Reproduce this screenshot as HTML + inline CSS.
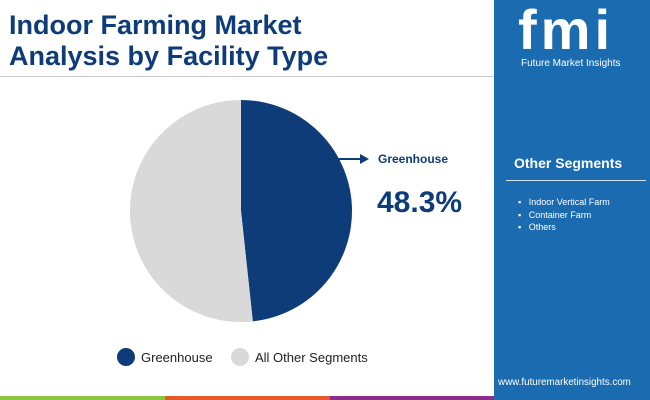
<!DOCTYPE html>
<html><head><meta charset="utf-8"><style>
body{margin:0;width:650px;height:400px;position:relative;overflow:hidden;background:#fff;font-family:"Liberation Sans",sans-serif}
.abs{position:absolute}
</style></head><body>
<div class="abs" style="left:9px;top:10px;font-size:27px;font-weight:bold;color:#0d3c78;line-height:31px">Indoor Farming Market<br>Analysis by Facility Type</div>
<div class="abs" style="left:0;top:76px;width:494px;height:1px;background:#c8c8c8"></div>
<div class="abs" style="left:494px;top:0;width:156px;height:400px;background:#1b6bb0">
  <div class="abs" style="left:24px;top:2px;font-size:56px;font-weight:bold;color:#fff;letter-spacing:4px;line-height:56px">fmi</div>
  <div class="abs" style="left:27px;top:58px;font-size:10px;color:#fff">Future Market Insights</div>
  <div class="abs" style="left:20px;top:155px;font-size:14px;font-weight:bold;color:#fff">Other Segments</div>
  <div class="abs" style="left:12px;top:180px;width:140px;height:1px;background:#cfe0f0"></div>
  <div class="abs" style="left:24px;top:196px;font-size:9px;color:#fff;line-height:12.5px">▪&nbsp;&nbsp;&nbsp;Indoor Vertical Farm<br>▪&nbsp;&nbsp;&nbsp;Container Farm<br>▪&nbsp;&nbsp;&nbsp;Others</div>
  <div class="abs" style="left:4px;top:377px;font-size:9.8px;color:#fff">www.futuremarketinsights.com</div>
</div>
<div class="abs" style="left:0;top:396px;width:165px;height:4px;background:#8cc63f"></div>
<div class="abs" style="left:165px;top:396px;width:165px;height:4px;background:#e8592a"></div>
<div class="abs" style="left:330px;top:396px;width:164px;height:4px;background:#8e2c8c"></div>
<svg class="abs" style="left:0;top:0" width="494" height="396">
<g id="pie"></g>
<line x1="337" y1="159" x2="362" y2="159" stroke="#0d3c78" stroke-width="2"/>
<polygon points="360,154 369,159 360,164" fill="#0d3c78"/>
<text x="378" y="163" font-size="12" font-weight="bold" fill="#0d3c78">Greenhouse</text>
<text x="377" y="212" font-size="30" font-weight="bold" fill="#0d3c78">48.3%</text>
<circle cx="126" cy="357" r="9" fill="#0d3c78"/>
<text x="141" y="362" font-size="13" fill="#222">Greenhouse</text>
<circle cx="240" cy="357" r="9" fill="#d9d9d9"/>
<text x="255" y="362" font-size="13" fill="#222">All Other Segments</text>
</svg>
<script>
const categories=["Greenhouse","All Other Segments"];
const values=[48.3,51.7];
const colors=["#0d3c78","#d9d9d9"];
const cx=241,cy=211,r=111;
const g=document.getElementById('pie');
const total=values.reduce((a,b)=>a+b,0);
let a0=-Math.PI/2;
values.forEach((v,i)=>{
  const a1=a0+v/total*2*Math.PI;
  const large=(a1-a0)>Math.PI?1:0;
  const p=document.createElementNS('http://www.w3.org/2000/svg','path');
  p.setAttribute('d',`M${cx},${cy} L${cx+r*Math.cos(a0)},${cy+r*Math.sin(a0)} A${r},${r} 0 ${large} 1 ${cx+r*Math.cos(a1)},${cy+r*Math.sin(a1)} Z`);
  p.setAttribute('fill',colors[i]);
  
  
  g.appendChild(p);
  a0=a1;
});
</script>
</body></html>
